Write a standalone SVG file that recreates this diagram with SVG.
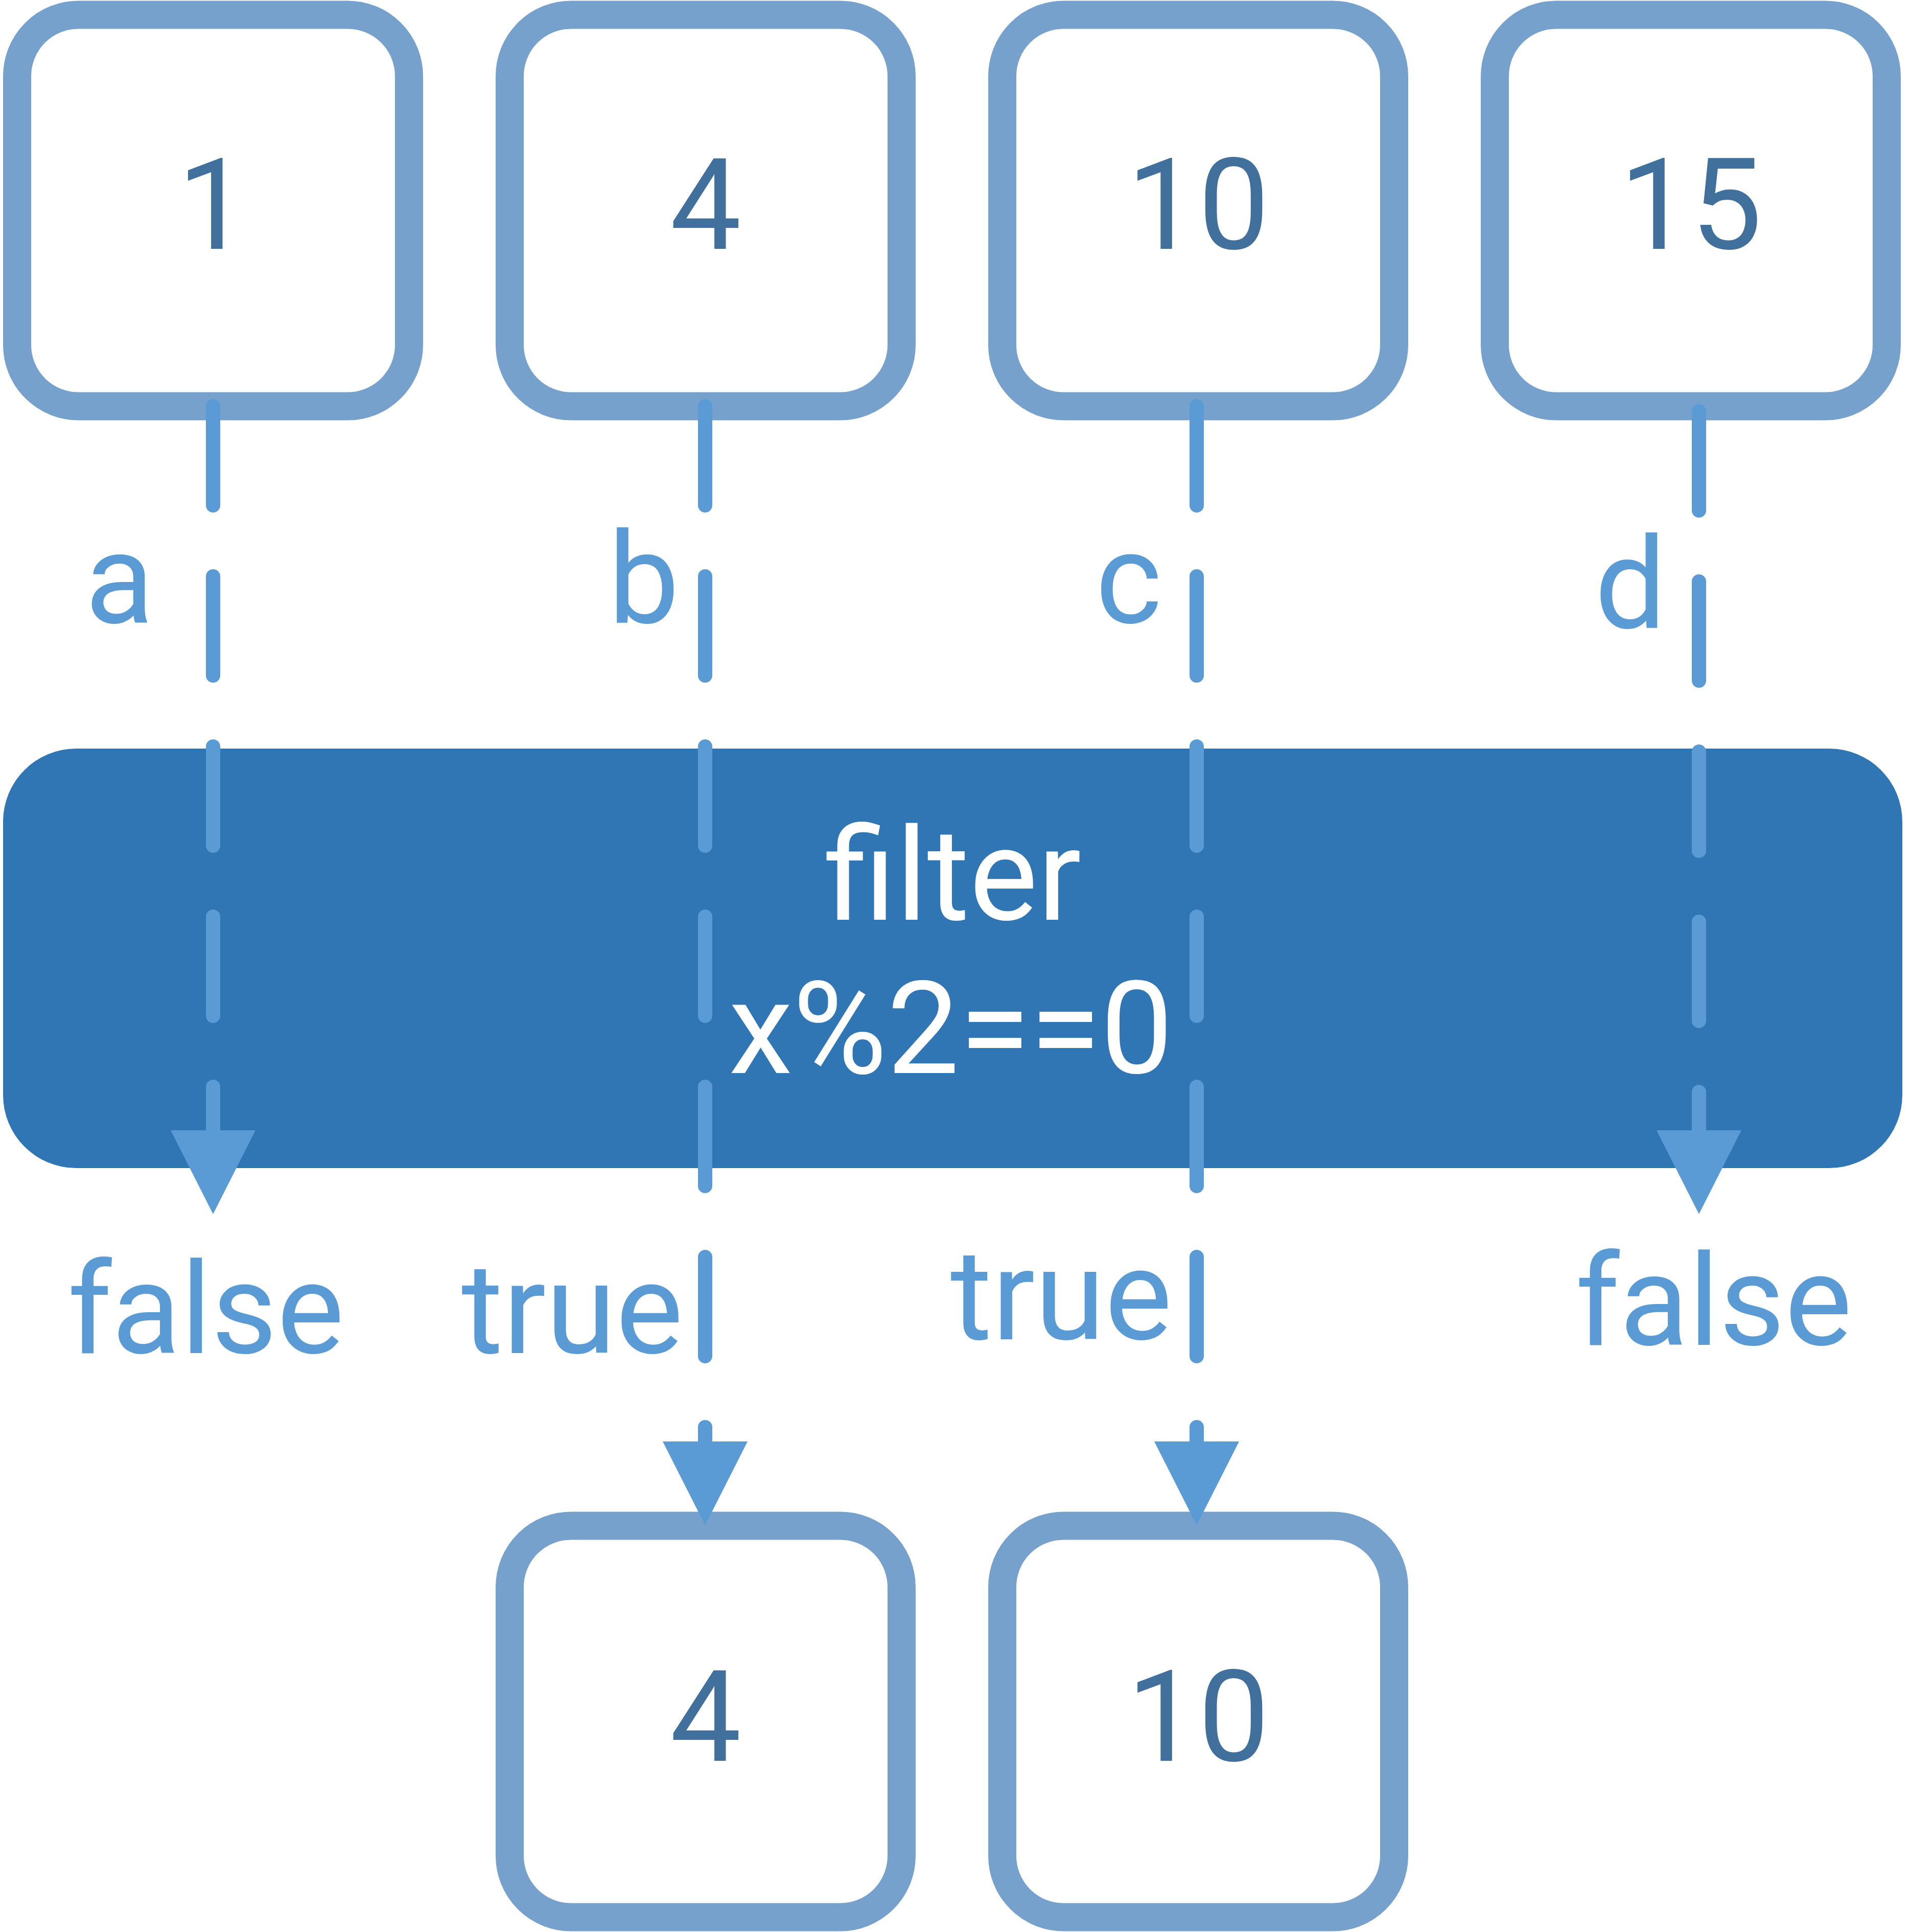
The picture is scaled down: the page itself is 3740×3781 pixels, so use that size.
<svg xmlns="http://www.w3.org/2000/svg" width="3740" height="3781" viewBox="0 0 3740 3781">
<style>
.box{fill:#ffffff;stroke:#77a1cd;stroke-width:55}
.num{font-family:Roboto,"Liberation Sans",Arial,sans-serif;font-size:248px;fill:#41709c;text-anchor:middle}
.lbl{font-family:Roboto,"Liberation Sans",Arial,sans-serif;font-size:248px;fill:#5b9bd5;text-anchor:middle}
.ftxt{font-family:Roboto,"Liberation Sans",Arial,sans-serif;font-size:252px;fill:#ffffff;text-anchor:middle}
.conn{fill:none;stroke:#5b9bd5;stroke-width:28;stroke-linecap:round;stroke-dasharray:194 139}
</style>
<defs>
<marker id="arrow" markerUnits="userSpaceOnUse" viewBox="0 0 164 166" refX="0" refY="83" markerWidth="164" markerHeight="166" orient="auto">
<path d="M0,0 L164,83 L0,166 Z" fill="#5b9bd5"/>
</marker>
</defs>
<rect width="3740" height="3781" fill="#ffffff"/>
<g id="node-in-1">
<rect class="box" x="33.5" y="29" width="767" height="766" rx="120"/>
<text class="num" x="417" y="487">1</text>
</g>
<g id="node-in-4">
<rect class="box" x="997.5" y="29" width="767" height="766" rx="120"/>
<text class="num" x="1381" y="487">4</text>
</g>
<g id="node-in-10">
<rect class="box" x="1961.5" y="29" width="767" height="766" rx="120"/>
<text class="num" x="2345" y="487">10</text>
</g>
<g id="node-in-15">
<rect class="box" x="2925.5" y="29" width="767" height="766" rx="120"/>
<text class="num" x="3309" y="487">15</text>
</g>
<g id="node-filter">
<rect x="6" y="1465" width="3717" height="821" rx="143" fill="#3076b5"/>
<text class="ftxt" x="1865" y="1800">filter</text>
<text class="ftxt" x="1861" y="2100">x%2==0</text>
</g>
<g id="node-out-4">
<rect class="box" x="997.5" y="2986" width="767" height="766" rx="120"/>
<text class="num" x="1381" y="3446">4</text>
</g>
<g id="node-out-10">
<rect class="box" x="1961.5" y="2986" width="767" height="766" rx="120"/>
<text class="num" x="2345" y="3446">10</text>
</g>
<g id="connectors">
<path class="conn" d="M417,795 V2212" marker-end="url(#arrow)"/>
<path class="conn" d="M1380,795 V2821" marker-end="url(#arrow)"/>
<path class="conn" d="M2342,795 V2821" marker-end="url(#arrow)"/>
<path class="conn" d="M3325,805 V2212" marker-end="url(#arrow)"/>
<text class="lbl" x="234" y="1219">a</text>
<text class="lbl" x="1260" y="1219">b</text>
<text class="lbl" x="2209" y="1219">c</text>
<text class="lbl" x="3191" y="1229">d</text>
<text class="lbl" x="403" y="2648">false</text>
<text class="lbl" x="1120" y="2648">true</text>
<text class="lbl" x="2077" y="2621">true</text>
<text class="lbl" x="3354" y="2632">false</text>
</g>
</svg>
